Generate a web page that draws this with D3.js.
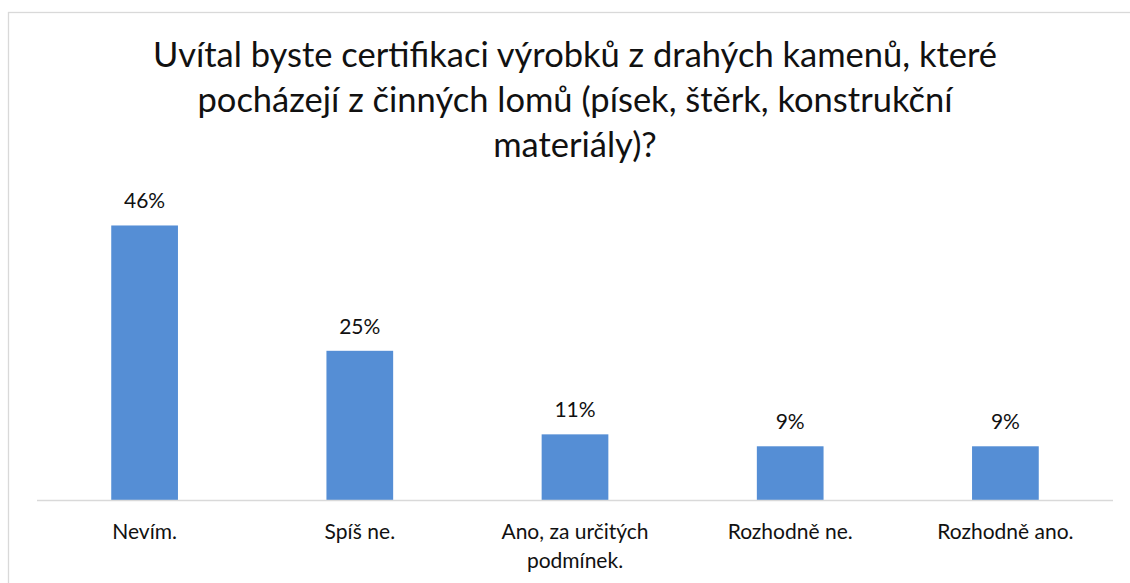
<!DOCTYPE html>
<html>
<head>
<meta charset="utf-8">
<script src="https://cdn.jsdelivr.net/npm/d3@7"></script>
<style>
  body { margin: 0; background: #fff; }
  svg { display: block; font-family: Lato, "Open Sans", sans-serif; }
</style>
</head>
<body>
<svg id="chart" width="1130" height="583"></svg>
<script>
// data
var categories = ["Nevím.", "Spíš ne.", "Ano, za určitých podmínek.", "Rozhodně ne.", "Rozhodně ano."];
var values = [46, 25, 11, 9, 9];
var titleLines = [
  "Uvítal byste certifikaci výrobků z drahých kamenů, které",
  "pocházejí z činných lomů (písek, štěrk, konstrukční",
  "materiály)?"
];
// category labels wrapped as in the picture
var labelLines = [["Nevím."], ["Spíš ne."], ["Ano, za určitých", "podmínek."], ["Rozhodně ne."], ["Rozhodně ano."]];

var svg = d3.select("#chart");
var W = 1130, H = 583;

// outer chart border (runs off the right and bottom edge)
svg.append("rect")
    .attr("x", 8.5).attr("y", 12.5)
    .attr("width", W).attr("height", H)
    .attr("fill", "none")
    .attr("stroke", "#d9d9d9")
    .attr("stroke-width", 1.3);

var plot = {left: 37, right: 1113, top: 201.6, bottom: 500};

var x = d3.scaleBand()
    .domain(categories)
    .range([plot.left, plot.right])
    .paddingInner(0.69)
    .paddingOuter(0.345);

var y = d3.scaleLinear()
    .domain([0, 50])
    .range([plot.bottom, plot.top]);

// title
svg.append("text")
    .attr("text-anchor", "middle")
    .attr("font-size", 34.5)
    .attr("fill", "#111")
  .selectAll("tspan")
    .data(titleLines)
    .enter()
    .append("tspan")
    .attr("x", 575)
    .attr("y", function(d, i) { return 67 + i * 45; })
    .text(function(d) { return d; });

// bars
svg.append("g")
  .selectAll("rect")
    .data(values)
    .enter()
    .append("rect")
    .attr("x", function(d, i) { return x(categories[i]); })
    .attr("y", function(d) { return y(d); })
    .attr("width", x.bandwidth())
    .attr("height", function(d) { return y(0) - y(d); })
    .attr("fill", "#558ed5");

// value labels
svg.append("g")
  .selectAll("text")
    .data(values)
    .enter()
    .append("text")
    .attr("x", function(d, i) { return x(categories[i]) + x.bandwidth() / 2; })
    .attr("y", function(d) { return y(d) - 17; })
    .attr("text-anchor", "middle")
    .attr("font-size", 21)
    .attr("fill", "#111")
    .text(function(d) { return d + "%"; });

// category axis line
svg.append("line")
    .attr("x1", plot.left).attr("x2", plot.right)
    .attr("y1", y(0) + 0.5).attr("y2", y(0) + 0.5)
    .attr("stroke", "#d9d9d9")
    .attr("stroke-width", 1.3);

// category labels
var cats = svg.append("g")
  .selectAll("text")
    .data(categories)
    .enter()
    .append("text")
    .attr("text-anchor", "middle")
    .attr("font-size", 21)
    .attr("fill", "#111");

cats.selectAll("tspan")
    .data(function(d, i) { return labelLines[i].map(function(t) { return {t: t, c: d}; }); })
    .enter()
    .append("tspan")
    .attr("x", function(d) { return x(d.c) + x.bandwidth() / 2; })
    .attr("y", function(d, i) { return 539 + i * 29; })
    .text(function(d) { return d.t; });
</script>
</body>
</html>
